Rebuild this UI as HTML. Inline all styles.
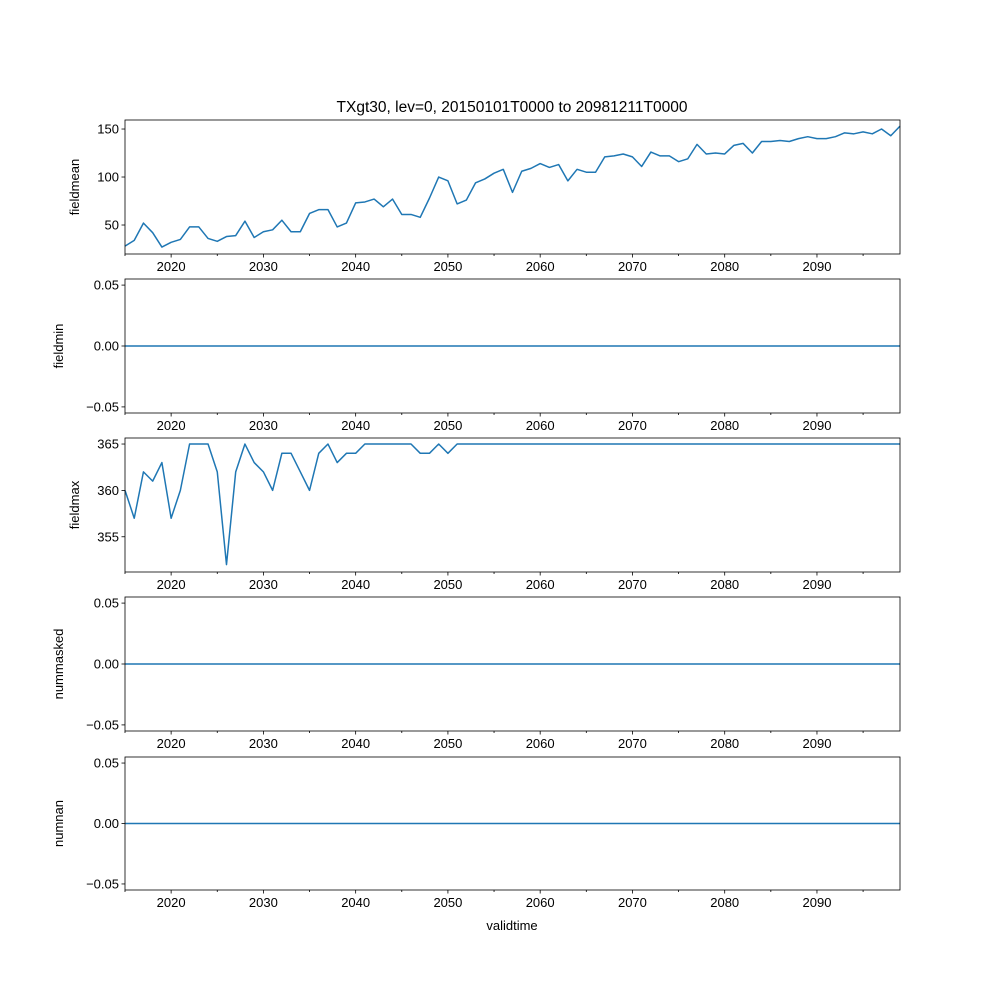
<!DOCTYPE html>
<html><head><meta charset="utf-8"><style>
body{margin:0;background:#fff;}
svg{display:block;font-family:"Liberation Sans","DejaVu Sans",sans-serif;}
</style></head><body>
<svg id="fig" width="1000" height="1000" viewBox="0 0 1000 1000"></svg>
<script>
const years = [];
for (let y = 2015; y <= 2099; y++) years.push(y);
const fieldmean = [28,34,52,42,27,32,35,48,48,36,33,38,39,54,37,43,45,55,43,43,62,66,66,48,52,73,74,77,69,77,61,61,58,78,100,96,72,76,94,98,104,108,84,106,109,114,110,113,96,108,105,105,121,122,124,121,111,126,122,122,116,119,134,124,125,124,133,135,125,137,137,138,137,140,142,140,140,142,146,145,147,145,150,143,153];
const fieldmaxStart = [360,357,362,361,363,357,360,365,365,365,362,352,362,365,363,362,360,364,364,362,360,364,365,363,364,364,365,365,365,365,365,365,364,364,365,364];
const fieldmax = years.map((y,i)=> i<fieldmaxStart.length ? fieldmaxStart[i] : 365);
const fieldmin = years.map(()=>0);
const nummasked = years.map(()=>0);
const numnan = years.map(()=>0);
const xTicks = [2020,2030,2040,2050,2060,2070,2080,2090];

const NS="http://www.w3.org/2000/svg";
const svg=document.getElementById('fig');
function el(tag,attrs,parent){const e=document.createElementNS(NS,tag);for(const k in attrs)e.setAttribute(k,attrs[k]);(parent||svg).appendChild(e);return e;}
const X0=125,X1=900,xmin=2015,xmax=2099;
const xs=v=>X0+(v-xmin)/(xmax-xmin)*(X1-X0);

const panels=[
 {name:'fieldmean',data:fieldmean,top:120,bot:254,ymin:19.8,ymax:159.4,ticks:[50,100,150],fmt:v=>String(v)},
 {name:'fieldmin',data:fieldmin,top:279,bot:413,ymin:-0.055,ymax:0.055,ticks:[-0.05,0,0.05],fmt:v=>v.toFixed(2).replace('-','−')},
 {name:'fieldmax',data:fieldmax,top:438,bot:572,ymin:351.2,ymax:365.65,ticks:[355,360,365],fmt:v=>String(v)},
 {name:'nummasked',data:nummasked,top:597,bot:731,ymin:-0.055,ymax:0.055,ticks:[-0.05,0,0.05],fmt:v=>v.toFixed(2).replace('-','−')},
 {name:'numnan',data:numnan,top:757,bot:890,ymin:-0.055,ymax:0.055,ticks:[-0.05,0,0.05],fmt:v=>v.toFixed(2).replace('-','−')}
];

const title=el('text',{x:512,y:112,'text-anchor':'middle','font-size':'15.5'});


title.textContent='TXgt30, lev=0, 20150101T0000 to 20981211T0000';

panels.forEach(p=>{
  const g=el('g',{});
  
  
  const ys=v=>p.bot-(v-p.ymin)/(p.ymax-p.ymin)*(p.bot-p.top);
  const pts=years.map((y,i)=>xs(y).toFixed(2)+','+ys(p.data[i]).toFixed(2)).join(' ');
  const line=el('polyline',{points:pts,fill:'none',stroke:'#1f77b4','stroke-width':'1.5','stroke-linejoin':'round'},g);
  
  
  const frame=el('rect',{x:X0,y:p.top,width:X1-X0,height:p.bot-p.top,fill:'none',stroke:'#000','stroke-width':'0.8'},g);
  
  
  for(let y=2015;y<=2099;y+=5){
    const major=y%10===0;
    el('line',{x1:xs(y),x2:xs(y),y1:p.bot,y2:p.bot+(major?3.5:2),stroke:'#000','stroke-width':'0.8'},g);
  }
  xTicks.forEach(t=>{
    const tx=el('text',{x:xs(t),y:p.bot+17,'text-anchor':'middle','font-size':'13'},g);
    
    
    tx.textContent=t;
  });
  p.ticks.forEach(t=>{
    el('line',{x1:X0-3.5,x2:X0,y1:ys(t),y2:ys(t),stroke:'#000','stroke-width':'0.8'},g);
    const tx=el('text',{x:X0-6,y:ys(t)+4.5,'text-anchor':'end','font-size':'13'},g);
    
    
    tx.textContent=p.fmt(t);
  });
  const lx=p.fmt(p.ticks[0]).length>3?63:79;
  const cy=(p.top+p.bot)/2;
  const yl=el('text',{x:lx,y:cy,'text-anchor':'middle','font-size':'13',transform:`rotate(-90 ${lx} ${cy})`},g);
  
  
  yl.textContent=p.name;
});
const xl=el('text',{x:512,y:930,'text-anchor':'middle','font-size':'13'});


xl.textContent='validtime';
</script>
</body></html>
